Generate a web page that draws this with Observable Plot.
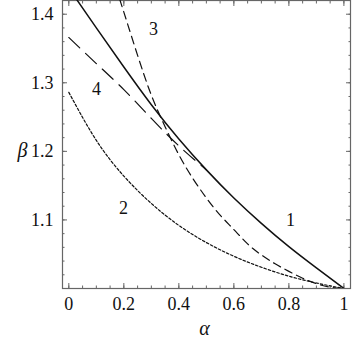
<!DOCTYPE html>
<html>
<head>
<meta charset="utf-8">
<script src="https://cdn.jsdelivr.net/npm/d3@7"></script>
<script src="https://cdn.jsdelivr.net/npm/@observablehq/plot@0.6"></script>
<style>
  html, body { margin: 0; padding: 0; background: #fff; }
  #chart svg, #chart svg text { font-family: "Liberation Serif", "DejaVu Serif", serif !important; }
</style>
</head>
<body>
<div id="chart"></div>
<script>
// Curve 1 (solid)
const alpha1 = [0, 0.1, 0.2, 0.3, 0.4, 0.5, 0.6, 0.7, 0.8, 0.9, 1.0];
const beta1  = [1.438, 1.380, 1.323, 1.268, 1.218, 1.173, 1.132, 1.095, 1.061, 1.030, 1.0];
// Curve 2 (fine dotted)
const alpha2 = [0, 0.1, 0.2, 0.3, 0.4, 0.5, 0.6, 0.7, 0.8, 0.9, 1.0];
const beta2  = [1.286, 1.216, 1.164, 1.124, 1.092, 1.067, 1.047, 1.031, 1.018, 1.008, 1.0];
// Curve 3 (short dashes, steep)
const alpha3 = [0.17, 0.2, 0.25, 0.3, 0.35, 0.4, 0.45, 0.5, 0.55, 0.6, 0.65, 0.7, 0.75, 0.8, 0.85, 0.9, 0.95, 1.0];
const beta3  = [1.44, 1.403, 1.340, 1.282, 1.236, 1.195, 1.161, 1.132, 1.107, 1.086, 1.065, 1.049, 1.036, 1.025, 1.015, 1.007, 1.002, 1.0];
// Curve 4 (long dashes, merges with curve 1)
const alpha4 = [0, 0.1, 0.2, 0.3, 0.4, 0.5];
const beta4  = [1.366, 1.328, 1.290, 1.248, 1.208, 1.173];

// Curve labels
const labelText  = ["1", "2", "3", "4"];
const labelAlpha = [0.806, 0.199, 0.308, 0.101];
const labelBeta  = [1.099, 1.1165, 1.3786, 1.29];

const xTicks = [0, 0.2, 0.4, 0.6, 0.8, 1];
const yTicks = [1.1, 1.2, 1.3, 1.4];
const xMinor = d3.range(0, 1.0001, 0.05);
const yMinor = d3.range(1.0, 1.42, 0.02);

const toRows = (a, b) => a.map((x, i) => ({a: x, b: b[i]}));
const c1 = toRows(alpha1, beta1);
const c2 = toRows(alpha2, beta2);
const c3 = toRows(alpha3, beta3);
const c4 = toRows(alpha4, beta4);
const labels = labelText.map((t, i) => ({t, a: labelAlpha[i], b: labelBeta[i]}));

const serif = "Liberation Serif";
const frameColor = "#666";

const chart = Plot.plot({
  width: 360,
  height: 344,
  marginLeft: 62,
  marginRight: 10,
  marginTop: 0,
  marginBottom: 56,
  style: {fontFamily: serif, fontSize: "17px", background: "#fff", color: "#111"},
  x: {domain: [-0.023, 1.024]},
  y: {domain: [1.0, 1.42]},
  marks: [
    // minor ticks inward
    Plot.axisX(xMinor, {anchor: "bottom", tickSize: -2.5, tickFormat: () => "", label: null, stroke: frameColor}),
    Plot.axisX(xMinor, {anchor: "top", tickSize: -2.5, tickFormat: () => "", label: null, stroke: frameColor}),
    Plot.axisY(yMinor, {anchor: "left", tickSize: -2.5, tickFormat: () => "", label: null, stroke: frameColor}),
    Plot.axisY(yMinor, {anchor: "right", tickSize: -2.5, tickFormat: () => "", label: null, stroke: frameColor}),
    // major ticks inward
    Plot.axisX(xTicks, {anchor: "bottom", tickSize: -5, tickFormat: () => "", label: null, stroke: frameColor}),
    Plot.axisX(xTicks, {anchor: "top", tickSize: -5, tickFormat: () => "", label: null, stroke: frameColor}),
    Plot.axisY(yTicks, {anchor: "left", tickSize: -5, tickFormat: () => "", label: null, stroke: frameColor}),
    Plot.axisY(yTicks, {anchor: "right", tickSize: -5, tickFormat: () => "", label: null, stroke: frameColor}),
    // tick labels
    Plot.axisX(xTicks, {anchor: "bottom", tickSize: 0, tickPadding: 9, tickFormat: d => String(d), label: null, fill: "#111", fontFamily: serif, fontSize: 18}),
    Plot.axisY(yTicks, {anchor: "left", tickSize: 0, tickPadding: 9, tickFormat: d => d.toFixed(1), label: null, fill: "#111", fontFamily: serif, fontSize: 18}),
    Plot.frame({stroke: frameColor, strokeWidth: 1.2}),
    // curves
    Plot.line(c2, {x: "a", y: "b", curve: "natural", stroke: "#111", strokeWidth: 1.2, strokeDasharray: "2.5,2", clip: true}),
    Plot.line(c3, {x: "a", y: "b", curve: "natural", stroke: "#111", strokeWidth: 1.2, strokeDasharray: "8,5", clip: true}),
    Plot.line(c4, {x: "a", y: "b", curve: "natural", stroke: "#111", strokeWidth: 1.2, strokeDasharray: "15,8", clip: true}),
    Plot.line(c1, {x: "a", y: "b", curve: "natural", stroke: "#111", strokeWidth: 1.5, clip: true}),
    // curve labels
    Plot.text(labels, {x: "a", y: "b", text: "t", fill: "#111", fontSize: 18, fontFamily: serif}),
    // axis titles
    Plot.text(["β"], {frameAnchor: "left", text: d => d, dx: -45, dy: 6, fontStyle: "italic", fontSize: 20, fill: "#111", fontFamily: serif}),
    Plot.text(["α"], {frameAnchor: "bottom", text: d => d, dx: -2, dy: 46, fontStyle: "italic", fontSize: 20, fill: "#111", fontFamily: serif})
  ]
});
document.getElementById("chart").appendChild(chart);
</script>
</body>
</html>
